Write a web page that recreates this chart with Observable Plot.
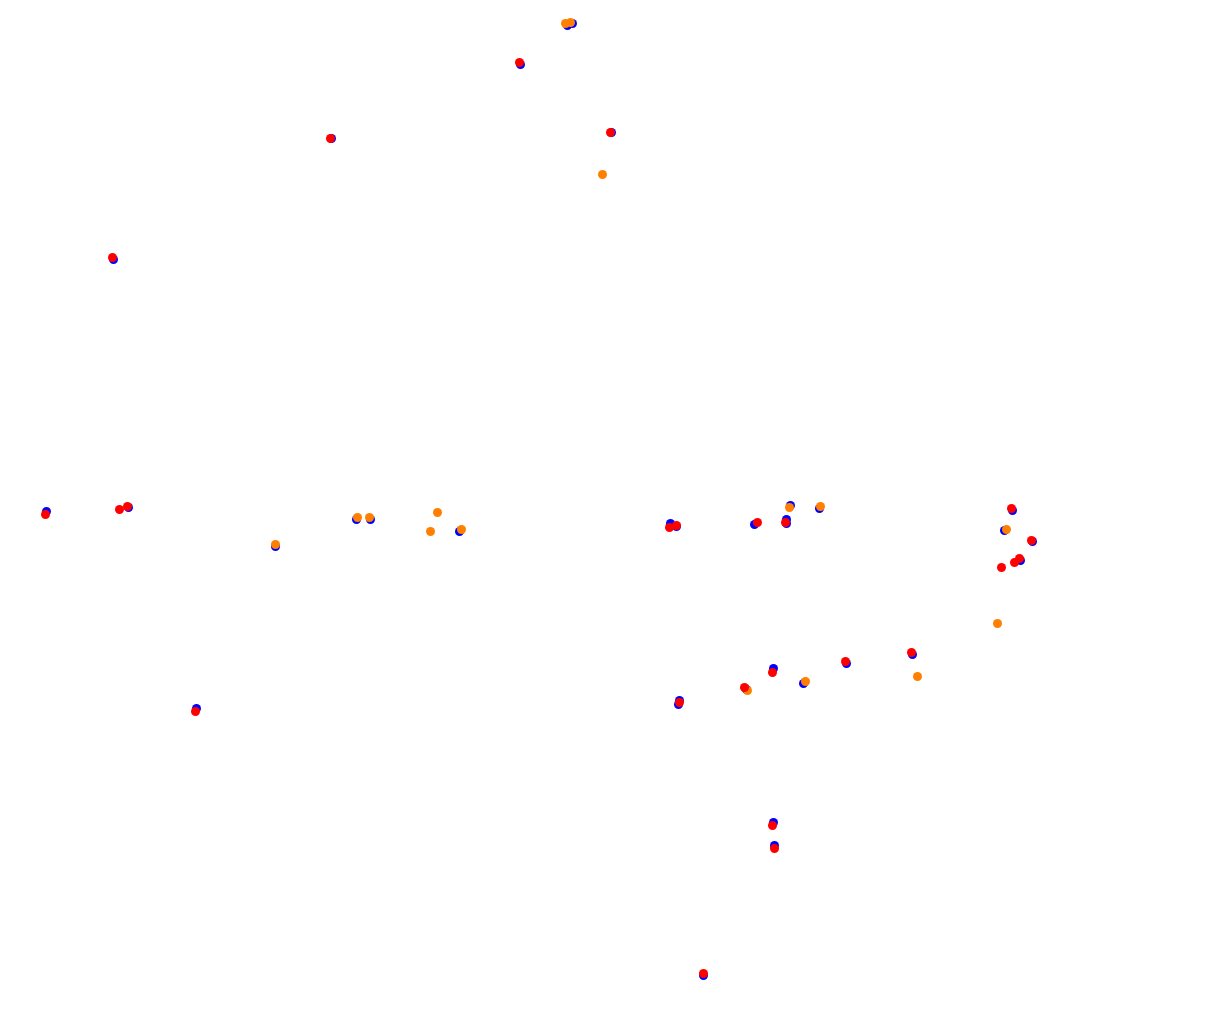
<!DOCTYPE html>
<html>
<head>
<meta charset="utf-8">
<script src="https://cdn.jsdelivr.net/npm/d3@7"></script>
<script src="https://cdn.jsdelivr.net/npm/@observablehq/plot@0.6"></script>
<style>
  html, body { margin: 0; padding: 0; background: #fff; }
  svg { display: block; }
</style>
</head>
<body>
<div id="chart"></div>
<script>
// Track-map style positions (x, y), y grows downward
const blueX = [567, 572, 520, 331, 611, 113, 46, 128, 275, 356, 370, 459, 670, 676, 754, 786, 786, 790, 819, 1012, 1004, 1032, 1020, 912, 846, 803, 773, 746, 679, 678, 773, 774, 196, 703];
const blueY = [25, 23, 64, 138, 132, 259, 511, 507, 546, 519, 519, 531, 523, 526, 524, 519, 523, 505, 508, 510, 530, 541, 560, 654, 663, 683, 668, 689, 700, 704, 822, 845, 708, 975];

const orangeX = [565, 570, 602, 275, 357, 369, 437, 430, 461, 789, 820, 1006, 997, 917, 805, 747];
const orangeY = [23, 22, 174, 544, 517, 517, 512, 531, 529, 507, 506, 529, 623, 676, 681, 690];

const redX = [519, 330, 610, 112, 45, 119, 127, 669, 676, 757, 785, 1011, 1031, 1019, 1014, 1001, 911, 845, 772, 744, 679, 772, 774, 195, 703];
const redY = [62, 138, 132, 257, 514, 509, 506, 527, 525, 522, 522, 508, 540, 558, 562, 567, 652, 661, 672, 687, 702, 825, 848, 711, 973];

const toRows = (xs, ys) => xs.map((x, i) => ({x, y: ys[i]}));
const blue = toRows(blueX, blueY);
const orange = toRows(orangeX, orangeY);
const red = toRows(redX, redY);

const W = 1228, H = 1016;
const chart = Plot.plot({
  width: W,
  height: H,
  margin: 0,
  x: {domain: [0, W], range: [0, W], axis: null},
  y: {domain: [0, H], range: [0, H], axis: null},
  marks: [
    Plot.dot(blue, {x: "x", y: "y", r: 4.5, fill: "#0000ff", stroke: "none"}),
    Plot.dot(orange, {x: "x", y: "y", r: 4.5, fill: "#ff8000", stroke: "none"}),
    Plot.dot(red, {x: "x", y: "y", r: 4.5, fill: "#ff0000", stroke: "none"})
  ]
});
document.getElementById("chart").appendChild(chart);
</script>
</body>
</html>
